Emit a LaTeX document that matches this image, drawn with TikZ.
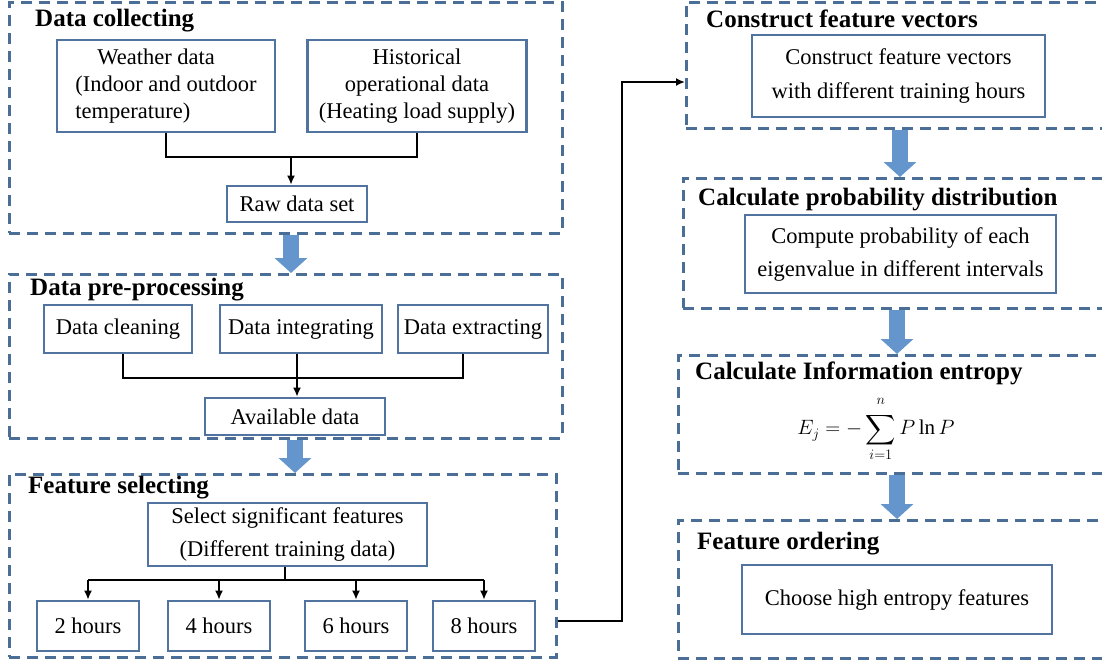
\documentclass[tikz,border=0pt]{standalone}
\usepackage{fontspec}
\setmainfont{Liberation Serif}
\usepackage{amsmath,amssymb}
\usetikzlibrary{arrows.meta}
\definecolor{panelblue}{RGB}{74,110,150}
\definecolor{boxblue}{RGB}{80,115,160}
\definecolor{arrowblue}{RGB}{100,150,205}
\tikzset{
    panel/.style={draw=panelblue, line width=2.6pt, dash pattern=on 11pt off 7pt, inner sep=0pt, anchor=north west},
    inbox/.style={draw=boxblue, line width=2.6pt, align=center, inner sep=0pt, font=\fontsize{22.5}{27}\selectfont},
    title/.style={anchor=west, inner sep=0pt, font=\fontsize{25}{28}\selectfont\bfseries},
    line/.style={line width=2.6pt},
    conn/.style={line width=2.6pt, -{Latex[length=9pt,width=8pt]}},
    fat/.style={line width=16pt, draw=arrowblue, -{Triangle[width=32pt,length=15pt]}}
}
\begin{document}
\begin{tikzpicture}[x=1pt, y=-1pt]
    \clip (0,0) rectangle (1102,662);

    \node [panel, minimum width=553, minimum height=231] (collect) at (8,1) {};
    \node [title] (collect_title) at (35,21) {Data collecting};
    \node [inbox, minimum width=218, minimum height=92, align=left] (weather) at (166,86) {\hspace*{22pt}Weather data\\(Indoor and outdoor\\temperature)};
    \node [inbox, minimum width=219, minimum height=92] (hist) at (417,86) {Historical\\operational data\\(Heating load supply)};
    \node [inbox, minimum width=140, minimum height=36] (raw) at (297,204) {Raw data set};

    \node [panel, minimum width=553, minimum height=164] (prep) at (8,273) {};
    \node [title] (prep_title) at (30,290) {Data pre-processing};
    \node [inbox, minimum width=148, minimum height=48] (clean) at (118,329) {Data cleaning};
    \node [inbox, minimum width=162, minimum height=48] (integ) at (301,329) {Data integrating};
    \node [inbox, minimum width=150, minimum height=48] (extract) at (473,329) {Data extracting};
    \node [inbox, minimum width=180, minimum height=37] (avail) at (295,416.5) {Available data};

    \node [panel, minimum width=547, minimum height=183] (featsel) at (8,473) {};
    \node [title] (featsel_title) at (28,488) {Feature selecting};
    \node [inbox, minimum width=279, minimum height=63, font=\fontsize{22.5}{33}\selectfont] (select) at (287.5,534.5) {Select significant features\\(Different training data)};
    \node [inbox, minimum width=102, minimum height=50] (h2) at (88,626) {2 hours};
    \node [inbox, minimum width=102, minimum height=50] (h4) at (219,626) {4 hours};
    \node [inbox, minimum width=102, minimum height=50] (h6) at (356,626) {6 hours};
    \node [inbox, minimum width=102, minimum height=50] (h8) at (484,626) {8 hours};

    \node [panel, minimum width=430, minimum height=126] (construct) at (685,1) {};
    \node [title] (construct_title) at (706,19) {Construct feature vectors};
    \node [inbox, minimum width=293, minimum height=82, font=\fontsize{22.5}{34}\selectfont] (vectors) at (898.5,76) {Construct feature vectors\\with different training hours};

    \node [panel, minimum width=433, minimum height=130] (prob) at (682,177) {};
    \node [title] (prob_title) at (698,200) {Calculate probability distribution};
    \node [inbox, minimum width=311, minimum height=78, font=\fontsize{22.5}{33}\selectfont] (compute) at (900.5,254) {Compute probability of each\\eigenvalue in different intervals};

    \node [panel, minimum width=438, minimum height=118] (entropy) at (677,354) {};
    \node [title] (entropy_title) at (695,373) {Calculate Information entropy};
    \node [inner sep=0pt, font=\fontsize{21}{24}\selectfont] (entropy_eq) at (876,429) {$\displaystyle E_j=-\sum_{i=1}^{\raisebox{4pt}{$\scriptstyle n$}}P\ln P$};

    \node [panel, minimum width=438, minimum height=138] (order) at (677,519) {};
    \node [title] (order_title) at (697,544) {Feature ordering};
    \node [inbox, minimum width=310, minimum height=69] (choose) at (897,599.5) {Choose high entropy features};

    \coordinate (collect_join) at (291,157);
    \draw [line] (weather.south) |- (collect_join) -| (hist.south);
    \draw [conn] (collect_join) -- (collect_join |- raw.north);

    \coordinate (prep_join) at (297,378);
    \draw [line] (clean.south -| 123,0) |- (prep_join) -| (extract.south -| 463,0);
    \draw [line] (integ.south -| prep_join) -- (prep_join);
    \draw [conn] (prep_join) -- (prep_join |- avail.north);

    \coordinate (sel_join) at (285,580);
    \draw [line] (select.south -| sel_join) -- (sel_join);
    \draw [line] (sel_join -| h2) -- (sel_join -| h8);
    \foreach \h in {h2,h4,h6,h8}
        \draw [conn] (sel_join -| \h) -- (\h.north);

    \coordinate (turn) at (622,82);
    \draw [conn] (featsel.east |- 0,621) -| (turn) -- (construct.west |- turn);

    \draw [fat] (collect.south -| 291,0) -- (prep.north -| 291,0);
    \draw [fat] (prep.south -| 295,0) -- (featsel.north -| 295,0);
    \draw [fat] (construct.south -| 900,0) -- (prob.north -| 900,0);
    \draw [fat] (prob.south -| 897,0) -- (entropy.north -| 897,0);
    \draw [fat] (entropy.south -| 897,0) -- (order.north -| 897,0);

\end{tikzpicture}
\end{document}
